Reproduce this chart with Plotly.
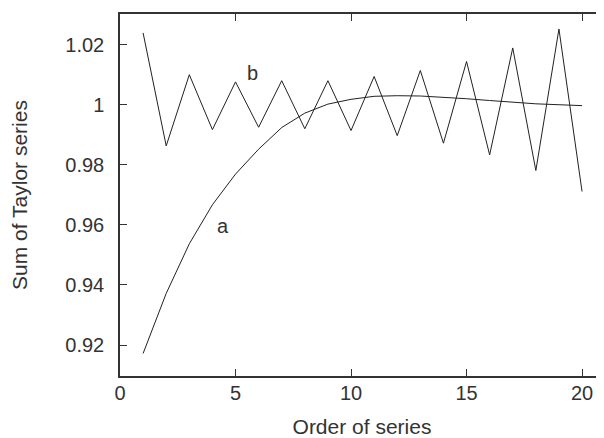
import plotly.graph_objects as go

order = list(range(1, 21))
series_a = [0.9172, 0.9372, 0.9537, 0.9667, 0.9769, 0.9852, 0.9924, 0.9972, 1.0002, 1.0018,
            1.0028, 1.0030, 1.0029, 1.0025, 1.0020, 1.0014, 1.0008, 1.0003, 1.0000, 0.9997]
series_b = [1.0239, 0.9863, 1.0100, 0.9917, 1.0076, 0.9925, 1.0080, 0.9920, 1.0080, 0.9914,
            1.0094, 0.9897, 1.0114, 0.9872, 1.0144, 0.9833, 1.0189, 0.9781, 1.0252, 0.9711]
labels = [("a", 4.45, 0.9596), ("b", 5.74, 1.0107)]
x_ticks = [0, 5, 10, 15, 20]
y_ticks = [0.92, 0.94, 0.96, 0.98, 1.00, 1.02]
y_ticktext = ["0.92", "0.94", "0.96", "0.98", "1", "1.02"]

FONT = "Liberation Sans, Arial, sans-serif"
TXT = "#333333"

fig = go.Figure()
fig.add_trace(go.Scatter(x=order, y=series_a, mode="lines",
                         line=dict(color="#222222", width=1), showlegend=False))
fig.add_trace(go.Scatter(x=order, y=series_b, mode="lines",
                         line=dict(color="#222222", width=1), showlegend=False))
for txt, lx, ly in labels:
    fig.add_annotation(x=lx, y=ly, text=txt, showarrow=False,
                       font=dict(family=FONT, size=20, color=TXT))

axis_common = dict(showline=True, mirror="ticks", linecolor="#333333", linewidth=1.5,
                   ticks="inside", ticklen=7, tickcolor="#333333", tickwidth=1,
                   showgrid=False, zeroline=False, automargin=False,
                   tickfont=dict(family=FONT, size=20, color=TXT))

fig.update_xaxes(range=[0, 20.95], tickvals=x_ticks, ticklabelstandoff=-2,
                 title=dict(text="Order of series", font=dict(family=FONT, size=21, color=TXT),
                            standoff=18),
                 **axis_common)
fig.update_yaxes(range=[0.9097, 1.0302], tickvals=y_ticks, ticktext=y_ticktext,
                 ticklabelstandoff=10,
                 title=dict(text="Sum of Taylor series", font=dict(family=FONT, size=21, color=TXT),
                            standoff=34),
                 **axis_common)

# the page body has an 8px default margin, so the figure is 8px smaller on each axis
fig.update_layout(width=596, height=430,
                  margin=dict(l=112, r=0, t=6, b=62, autoexpand=False),
                  plot_bgcolor="white", paper_bgcolor="white",
                  font=dict(family=FONT))

fig.write_html("out.html")
